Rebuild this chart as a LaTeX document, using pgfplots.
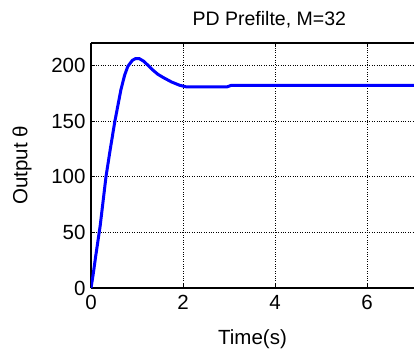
\documentclass[border=0pt]{standalone}
\usepackage{fontspec}
\setmainfont{Liberation Sans}
\usepackage{pgfplots}
\pgfplotsset{compat=1.18}
\usetikzlibrary{calc}
\begin{document}
\begin{tikzpicture}[x=1pt,y=1pt]
\begin{axis}[
  scale only axis,
  width=323pt, height=245pt,
  xmin=0, xmax=7.02, ymin=0, ymax=220,
  axis x line=box, axis y line=left,
  y axis line style={-},
  xtick={0,2,4,6}, ytick={0,50,100,150,200},
  tick align=inside,
  major tick length=4pt,
  tick style={black, line width=0.6pt},
  axis line style={black, line width=1.2pt},
  grid=major,
  grid style={black, dotted, line width=0.7pt},
  /pgf/number format/assume math mode=true,
  tick label style={font=\fontsize{20.5}{24}\selectfont},
  xticklabel style={yshift=-4pt},
  yticklabel style={xshift=-2pt},
  xlabel={Time(s)}, ylabel={Output θ},
  label style={font=\fontsize{20.5}{24}\selectfont},
  xlabel style={at={(axis description cs:0.5,0)}, anchor=center, yshift=-51pt},
  ylabel style={at={(axis description cs:0,0.5)}, anchor=center, yshift=69pt},
  title={PD Prefilte, M=32},
  title style={font=\fontsize{19.5}{24}\selectfont, at={(0.552,1)}, anchor=south, yshift=5pt},
  clip=true,
]
\addplot[blue, line width=3pt] coordinates {
(0,0) (0.05,13) (0.1,28) (0.2,56) (0.326,100) (0.42,125) (0.52,150) (0.65,178) (0.73,191) (0.8,199) (0.9,204.5) (0.97,206) (1.05,206) (1.15,203.5) (1.25,199.5) (1.35,195.5) (1.45,192) (1.57,189) (1.75,185) (1.93,182) (2.08,180.5) (2.5,180.5) (2.95,180.5) (3.05,182) (7.1,182)
};
\end{axis}
\pgfresetboundingbox
\path ($(current axis.south west)+(-91pt,-63pt)$) rectangle ($(current axis.north east)+(0pt,43pt)$);
\end{tikzpicture}
\end{document}
